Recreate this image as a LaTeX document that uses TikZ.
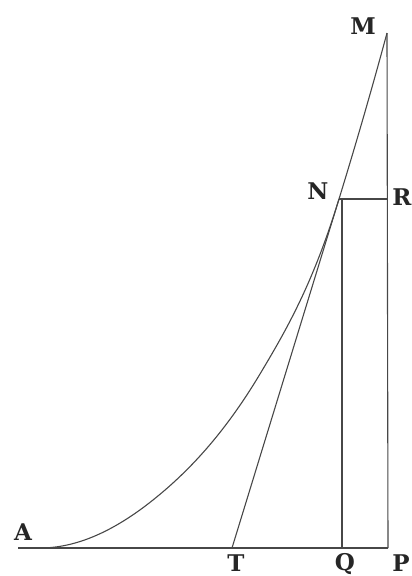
\documentclass[tikz,border=0pt]{standalone}
\usepackage{fontspec}
\setmainfont{DejaVu Serif}
\begin{document}
\begin{tikzpicture}[x=1pt,y=-1pt,
  geo/.style={line width=1.1pt,draw=black!72},
  lbl/.style={anchor=base,inner sep=0pt,font=\fontsize{23}{23}\selectfont\bfseries,text=black!85}]
\useasboundingbox (0,0) rectangle (412,576);
\coordinate (A0) at (18,548);
\coordinate (A) at (40,548);
\coordinate (T) at (232,548);
\coordinate (Q) at (342,548);
\coordinate (P) at (388,548);
\coordinate (N) at (339,199);
\coordinate (NQ) at (342,199);
\coordinate (R) at (388,199);
\coordinate (M) at (387,33);
\coordinate (C1) at (153,500);
\coordinate (C2) at (260,374);
% base line
\draw[geo] (A0) -- (P);
% curve
\draw[geo] (A) .. controls (77.7,548) and (115.3,530.1) .. (C1)
  .. controls (188.7,471.5) and (224.3,433.6) .. (C2)
  .. controls (286.3,330) and (312.7,284.6) .. (N)
  .. controls (355,147) and (371,92.2) .. (M);
% tangent
\draw[geo] (T) -- (N);
% ordinates
\draw[geo] (M) -- (P);
\draw[geo] (NQ) -- (Q);
\draw[geo] (N) -- (R);
% labels
\node[lbl] (lM) at (363,34) {M};
\node[lbl] (lN) at (318,199) {N};
\node[lbl] (lR) at (402,205) {R};
\node[lbl] (lA) at (23,540) {A};
\node[lbl] (lT) at (236,571) {T};
\node[lbl] (lQ) at (345,570) {Q};
\node[lbl] (lP) at (401,571) {P};
\end{tikzpicture}
\end{document}
